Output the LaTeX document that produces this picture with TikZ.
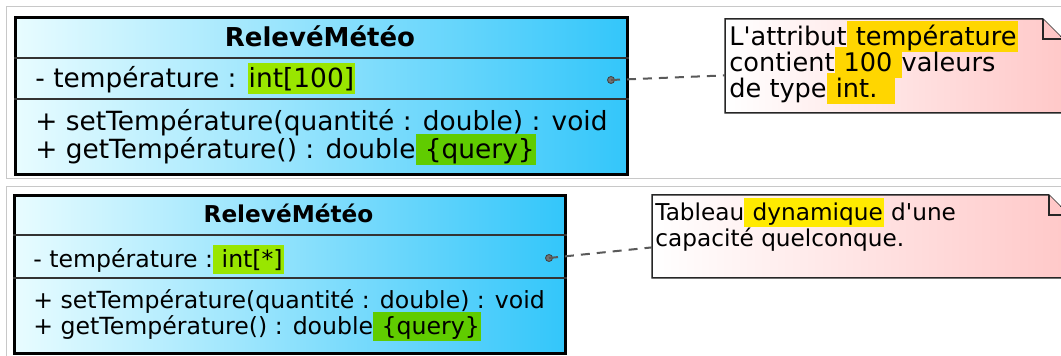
\documentclass[tikz,border=0pt]{standalone}
\usepackage{fontspec}
\setmainfont{DejaVu Sans}[Ligatures=TeXOff]
\usepackage{tikz}
\definecolor{clsLeft}{RGB}{232,252,255}
\definecolor{clsRight}{RGB}{51,198,250}
\definecolor{notePink}{RGB}{255,200,200}
\definecolor{hlLime}{RGB}{153,230,0}
\definecolor{hlGreen}{RGB}{96,204,0}
\definecolor{hlGold}{RGB}{255,214,0}
\definecolor{hlYellow}{RGB}{255,234,0}
\definecolor{frameGray}{RGB}{200,200,200}
\newcommand{\marque}[2]{\smash{\setlength{\fboxsep}{0.5pt}\colorbox{#1}{\vphantom{Ég}#2}}}
\newcommand{\grand}{\fontsize{13.2}{13}\selectfont}
\newcommand{\petit}{\fontsize{11.8}{13}\selectfont}
\newcommand{\petitnote}{\fontsize{11.6}{13}\selectfont}

\begin{document}
\begin{tikzpicture}[x=0.5pt,y=-0.5pt,
    frame/.style={draw=frameGray,line width=0.5pt},
    classbox/.style={draw=black,line width=1.5pt,left color=clsLeft,right color=clsRight,
      inner sep=0pt,anchor=north west},
    sepline/.style={draw=black!80,line width=0.6pt},
    notebox/.style={inner sep=0pt,anchor=north west},
    noteline/.style={draw=black!85,line width=0.75pt,left color=white,right color=notePink},
    txt/.style={anchor=base west,inner sep=0pt,align=left},
    titletxt/.style={anchor=base,inner sep=0pt,font=\bfseries},
    attrdot/.style={circle,fill=black!55,draw=black!75,line width=0.4pt,inner sep=0pt,minimum size=3.5pt},
    link/.style={draw=black!65,line width=1pt,dash pattern=on 4.5pt off 3.5pt}]
  \useasboundingbox (0,0) rectangle (1061,356);
  \clip (0,0) rectangle (1061,356);
  \fill[white] (0,0) rectangle (1061,356);

  \draw[frame] (6,7) rectangle (1075,179);
  \draw[frame] (6,187) rectangle (1075,365);

  \node[classbox,minimum width=306pt,minimum height=78.5pt] (cls1) at (14,16) {};
  \draw[sepline] (cls1.west |- 0,58) -- (cls1.east |- 0,58);
  \draw[sepline] (cls1.west |- 0,99) -- (cls1.east |- 0,99);
  \node[titletxt,font=\fontsize{13}{13}\selectfont\bfseries] (titre1) at (320,47) {RelevéMétéo};
  \node[txt,font=\grand] (attr1) at (35,88) {- température : \marque{hlLime}{int[100]}};
  \node[txt,font=\grand] (ops1) at (35,159) {+ setTempérature(quantité : double) : void\\
    + getTempérature() : double\marque{hlGreen}{ \{query\}}};
  \node[attrdot] (dot1) at (611,80) {};

  \node[notebox,minimum width=168.5pt,minimum height=46.5pt] (note1) at (725,19) {};
  \draw[noteline] (note1.south west) -- (note1.north west) -- ([xshift=-10pt]note1.north east)
    -- ([yshift=-10pt]note1.north east) -- (note1.south east) -- cycle;
  \draw[noteline,left color=notePink,right color=notePink] ([xshift=-10pt]note1.north east)
    -- ([xshift=-10pt,yshift=-10pt]note1.north east) -- ([yshift=-10pt]note1.north east);
  \node[txt,font=\fontsize{12.8}{13}\selectfont] (texte1) at (729,98) {L'attribut\marque{hlGold}{ température}\\
    contient\marque{hlGold}{ 100 }valeurs\\
    de type\marque{hlGold}{ int.\ \ }};
  \draw[link] (dot1.center) -- ([yshift=-4.75pt]note1.west);

  \node[classbox,minimum width=275.5pt,minimum height=79pt] (cls2) at (13,194) {};
  \draw[sepline] (cls2.west |- 0,235) -- (cls2.east |- 0,235);
  \draw[sepline] (cls2.west |- 0,278) -- (cls2.east |- 0,278);
  \node[titletxt,font=\fontsize{11.6}{11.5}\selectfont\bfseries] (titre2) at (288.5,223) {RelevéMétéo};
  \node[txt,font=\petit] (attr2) at (33,268) {- température :\marque{hlLime}{ int[*]}};
  \node[txt,font=\petit] (ops2) at (33,335) {+ setTempérature(quantité : double) : void\\
    + getTempérature() : double\marque{hlGreen}{ \{query\}}};
  \node[attrdot] (dot2) at (549,258) {};

  \node[notebox,minimum width=208pt,minimum height=41pt] (note2) at (652,195) {};
  \draw[noteline] (note2.south west) -- (note2.north west) -- ([xshift=-10pt]note2.north east)
    -- ([yshift=-10pt]note2.north east) -- (note2.south east) -- cycle;
  \draw[noteline,left color=notePink,right color=notePink] ([xshift=-10pt]note2.north east)
    -- ([xshift=-10pt,yshift=-10pt]note2.north east) -- ([yshift=-10pt]note2.north east);
  \node[txt,font=\petitnote] (texte2) at (655,247) {Tableau\marque{hlYellow}{ dynamique} d'une\\
    capacité quelconque.};
  \draw[link] (dot2.center) -- ([yshift=-5.5pt]note2.west);
\end{tikzpicture}
\end{document}
